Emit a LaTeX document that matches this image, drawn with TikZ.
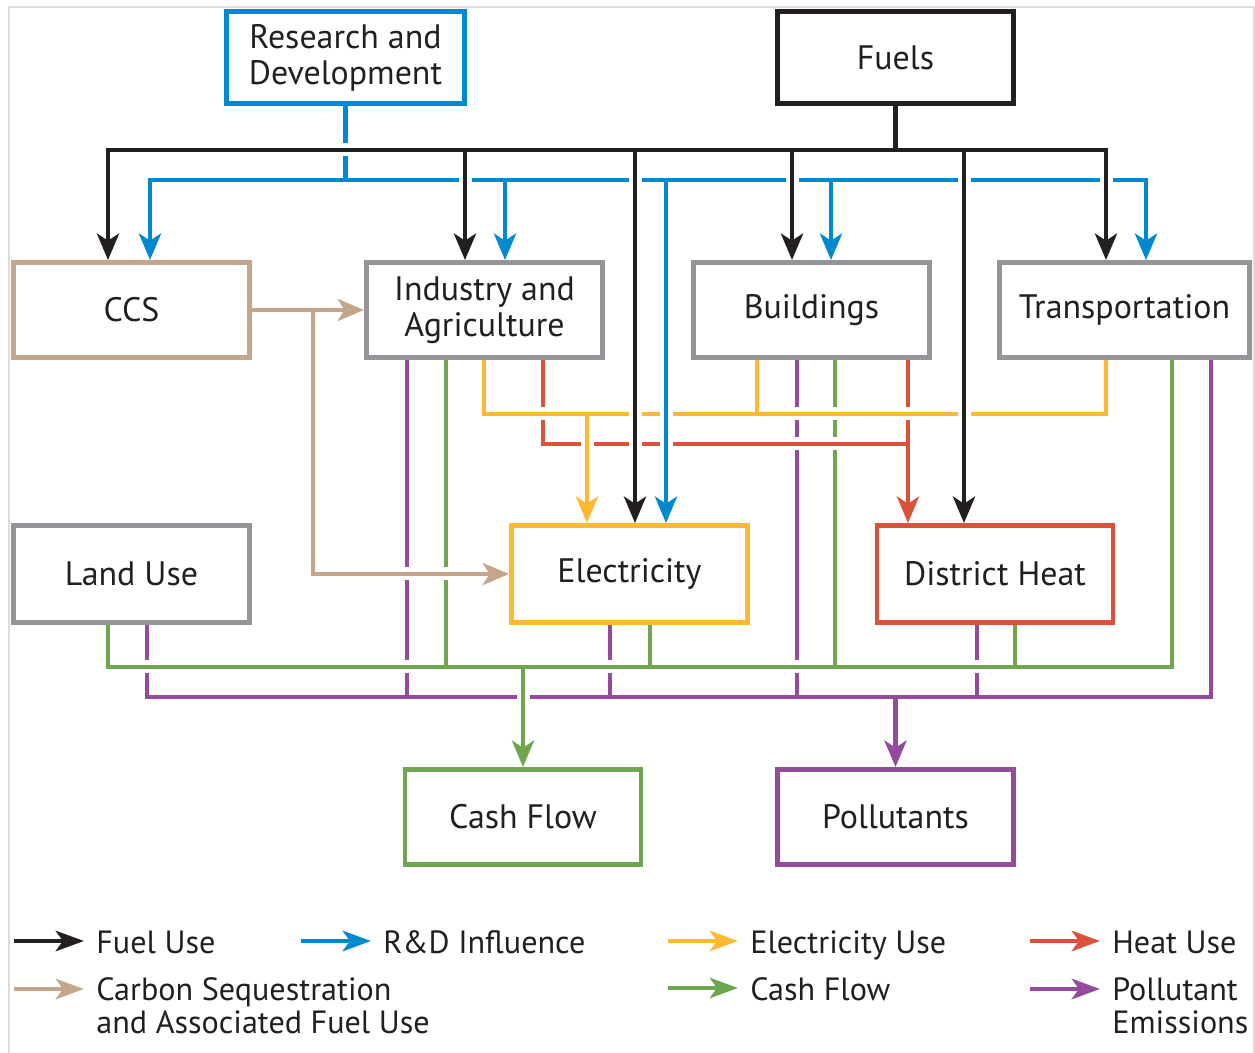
\documentclass[tikz,border=0pt]{standalone}
\usepackage{fontspec}
\setmainfont{PT Sans}
\usetikzlibrary{arrows.meta,calc,backgrounds}

\definecolor{ink}{HTML}{231F20}
\definecolor{rdblue}{HTML}{0089CF}
\definecolor{ccstan}{HTML}{C4A68D}
\definecolor{boxgray}{HTML}{939598}
\definecolor{elecyellow}{HTML}{FDB933}
\definecolor{heatred}{HTML}{D9533A}
\definecolor{cashgreen}{HTML}{6FA650}
\definecolor{polpurple}{HTML}{954B9C}
\definecolor{framegray}{HTML}{DCDCDC}

\tikzset{
  box/.style={draw, line width=2.8pt, fill=white, minimum width=4.72cm,
    minimum height=1.9cm, inner sep=0pt, align=center, text=ink,
    font=\fontsize{19.3}{20.4}\selectfont},
  flow/.style={line width=2.8pt},
  tip/.style={-{Stealth[length=15pt,width=12.5pt,inset=4pt]}},
  twotip/.style={{Stealth[length=15pt,width=12.5pt,inset=4pt]}-{Stealth[length=15pt,width=12.5pt,inset=4pt]}},
  legtip/.style={-{Stealth[length=16pt,width=11.5pt,inset=4pt]}},
  halo/.style={draw=white, line width=7.4pt, arrows=-},
  legend/.style={anchor=base west, inner sep=0pt, align=left, text=ink,
    font=\fontsize{18.3}{18.7}\selectfont},
}

% each set of flows is drawn twice: once as a white halo, once in colour
\newcommand\fuellines[1]{%
  \draw[#1] (fuels.south) -- (fuels.south |- fuelbus);
  \draw[twotip,#1] (108,0 |- ccs.north) -- (108,0 |- fuelbus) -- (1106,0 |- fuelbus) -- (1106,0 |- trn.north);
  \foreach \x/\n in {465/ind,635/ele,792/bld,964/dh}
    \draw[tip,#1] (\x,0 |- fuelbus) -- (\x,0 |- \n.north);
}
\newcommand\rdlines[1]{%
  \draw[#1] (rd.south) -- (rd.south |- rdbus);
  \draw[twotip,#1] (150,0 |- ccs.north) -- (150,0 |- rdbus) -- (1146,0 |- rdbus) -- (1146,0 |- trn.north);
  \foreach \x/\n in {505/ind,666/ele,831/bld}
    \draw[tip,#1] (\x,0 |- rdbus) -- (\x,0 |- \n.north);
}
\newcommand\elelines[1]{%
  \draw[#1] (484,0 |- ind.south) -- (484,0 |- elebus) -- (1106,0 |- elebus) -- (1106,0 |- trn.south);
  \draw[#1] (757,0 |- bld.south) -- (757,0 |- elebus);
  \draw[tip,#1] (587,0 |- elebus) -- (587,0 |- ele.north);
}
\newcommand\heatlines[1]{%
  \draw[#1] (543,0 |- ind.south) -- (543,0 |- heatbus) -- (908,0 |- heatbus);
  \draw[tip,#1] (908,0 |- bld.south) -- (908,0 |- dh.north);
}
\newcommand\cashlines[1]{%
  \draw[#1] (108,0 |- land.south) -- (108,0 |- cashbus) -- (1172,0 |- cashbus) -- (1172,0 |- trn.south);
  \foreach \x/\n in {446/ind,650/ele,835/bld,1015/dh}
    \draw[#1] (\x,0 |- \n.south) -- (\x,0 |- cashbus);
  \draw[tip,#1] (cash.north |- cashbus) -- (cash.north);
}
\newcommand\pollines[1]{%
  \draw[#1] (147,0 |- land.south) -- (147,0 |- polbus) -- (1211,0 |- polbus) -- (1211,0 |- trn.south);
  \foreach \x/\n in {407/ind,610/ele,797/bld,977/dh}
    \draw[#1] (\x,0 |- \n.south) -- (\x,0 |- polbus);
  \draw[tip,#1] (pol.north |- polbus) -- (pol.north);
}
\newcommand\ccslines[1]{%
  \draw[tip,#1] (ccs.east) -- (ind.west);
  \draw[tip,#1] (313,0 |- ccs.east) |- (ele.west);
}

\begin{document}
\begin{tikzpicture}[x=0.02cm,y=-0.02cm]

\useasboundingbox (0,0) rectangle (1255,1053);

% frame
\draw[framegray, line width=1.2pt] (9,1053) -- (9,7) -- (1254,7) -- (1254,1053);

% bus levels
\coordinate (fuelbus) at (0,150);
\coordinate (rdbus) at (0,180);
\coordinate (elebus) at (0,414);
\coordinate (heatbus) at (0,444);
\coordinate (cashbus) at (0,667);
\coordinate (polbus) at (0,697);

% sources
\node[box, draw=rdblue, minimum width=4.76cm, minimum height=1.84cm] (rd) at (345.5,57.5) {Research and\\Development};
\node[box, draw=ink, minimum height=1.84cm] (fuels) at (895.5,57.5) {Fuels};

% sectors
\node[box, draw=ccstan] (ccs) at (131.5,310) {CCS};
\node[box, draw=boxgray] (ind) at (484.5,310) {Industry and\\Agriculture};
\node[box, draw=boxgray] (bld) at (811.5,310) {Buildings};
\node[box, draw=boxgray, minimum width=5cm] (trn) at (1124.5,310) {Transportation};
\node[box, draw=boxgray, minimum height=1.94cm] (land) at (131.5,574) {Land Use};
\node[box, draw=elecyellow, minimum height=1.94cm] (ele) at (629.5,574) {Electricity};
\node[box, draw=heatred, minimum height=1.94cm] (dh) at (995,574) {District Heat};

% outputs
\node[box, draw=cashgreen] (cash) at (523,817) {Cash Flow};
\node[box, draw=polpurple] (pol) at (895.5,817) {Pollutants};

% flows, lowest first
\begin{scope}[on background layer]
  \pollines{flow,polpurple}
  \cashlines{halo}
  \cashlines{flow,cashgreen}
  \ccslines{halo}
  \ccslines{flow,ccstan}
  \heatlines{halo}
  \heatlines{flow,heatred}
  \elelines{halo}
  \elelines{flow,elecyellow}
  \rdlines{halo}
  \rdlines{flow,rdblue}
  \fuellines{halo}
  \fuellines{flow,ink}
\end{scope}

% legend (two-line entries sit on their last baseline)
\node[legend] (lgfuel) at (96,953) {Fuel Use};
\node[legend] (lgrd) at (383,953) {R\&D Influence};
\node[legend] (lgele) at (750,953) {Electricity Use};
\node[legend] (lgheat) at (1112,953) {Heat Use};
\node[legend] (lgccs) at (96,1033) {Carbon Sequestration\\and Associated Fuel Use};
\node[legend] (lgcash) at (750,1000) {Cash Flow};
\node[legend] (lgpol) at (1112,1033) {Pollutant\\Emissions};

\draw[legtip, flow, ink] ($(lgfuel.base west)+(-82,-12)$) -- ($(lgfuel.base west)+(-12,-12)$);
\draw[legtip, flow, rdblue] ($(lgrd.base west)+(-82,-12)$) -- ($(lgrd.base west)+(-12,-12)$);
\draw[legtip, flow, elecyellow] ($(lgele.base west)+(-82,-12)$) -- ($(lgele.base west)+(-12,-12)$);
\draw[legtip, flow, heatred] ($(lgheat.base west)+(-82,-12)$) -- ($(lgheat.base west)+(-12,-12)$);
\draw[legtip, flow, ccstan] ($(lgccs.base west)+(-82,-44)$) -- ($(lgccs.base west)+(-12,-44)$);
\draw[legtip, flow, cashgreen] ($(lgcash.base west)+(-82,-12)$) -- ($(lgcash.base west)+(-12,-12)$);
\draw[legtip, flow, polpurple] ($(lgpol.base west)+(-82,-44)$) -- ($(lgpol.base west)+(-12,-44)$);

\end{tikzpicture}
\end{document}
